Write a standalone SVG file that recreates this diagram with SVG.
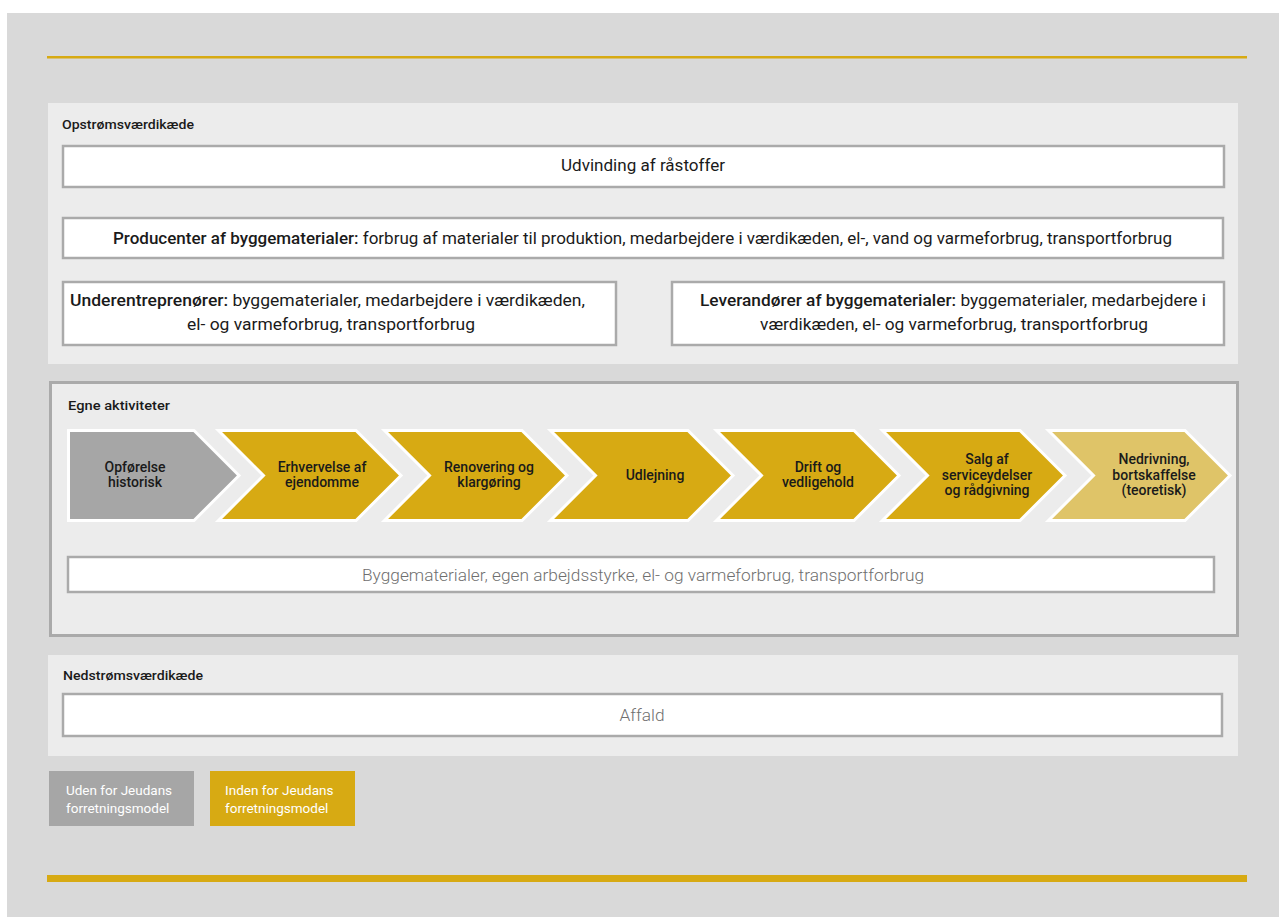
<svg xmlns="http://www.w3.org/2000/svg" width="1279" height="917" viewBox="0 0 1279 917">
  <style>
    .bg { fill: #d9d9d9; }
    .panel { fill: #ececec; }
    .box { fill: #ffffff; stroke: #aaaaaa; stroke-width: 2.5; }
    .rule { fill: #d7aa13; }
    .head { font-family: "Roboto", "Liberation Sans", sans-serif; font-size: 13px; font-weight: 500; fill: #1a1a1a; }
    .body { font-family: "Roboto", "Liberation Sans", sans-serif; font-size: 16px; font-weight: 400; fill: #1a1a1a; text-anchor: middle; }
    .muted { font-family: "Roboto", "Liberation Sans", sans-serif; font-size: 16px; font-weight: 300; fill: #6f6f6f; text-anchor: middle; }
    .chev { stroke: #ffffff; stroke-width: 3; stroke-linejoin: miter; }
    .gold { fill: #d7aa13; }
    .pale { fill: #dfc468; }
    .grey { fill: #a6a6a6; }
    .ctext { font-family: "Roboto", "Liberation Sans", sans-serif; font-size: 14px; font-weight: 500; fill: #1a1a1a; text-anchor: middle; }
    .legend { font-family: "Roboto", "Liberation Sans", sans-serif; font-size: 13.5px; font-weight: 400; fill: #ffffff; }
  </style>

  <!-- page background -->
  <rect x="7" y="13" width="1272" height="904" class="bg"/>
  <rect x="47" y="56" width="1200" height="2.5" class="rule"/>

  <!-- upstream value chain -->
  <g id="upstream">
    <rect x="48" y="103" width="1190" height="261" class="panel"/>
    <text x="62" y="129" class="head" textLength="132" lengthAdjust="spacingAndGlyphs">Opstrømsværdikæde</text>
  </g>
  <g id="node-udvinding">
    <rect x="63" y="146" width="1161" height="41" class="box"/>
    <text x="643" y="171" class="body" textLength="164" lengthAdjust="spacingAndGlyphs">Udvinding af råstoffer</text>
  </g>
  <g id="node-producenter">
    <rect x="63" y="218" width="1160" height="40" class="box"/>
    <text x="642.5" y="244" class="body" textLength="1059" lengthAdjust="spacingAndGlyphs"><tspan font-weight="500">Producenter af byggematerialer:</tspan> forbrug af materialer til produktion, medarbejdere i værdikæden, el-, vand og varmeforbrug, transportforbrug</text>
  </g>
  <g id="node-underentreprenoerer">
    <rect x="63" y="282" width="553" height="63" class="box"/>
    <text x="327.5" y="306" class="body" textLength="515" lengthAdjust="spacingAndGlyphs"><tspan font-weight="500">Underentreprenører:</tspan> byggematerialer, medarbejdere i værdikæden,</text>
    <text x="331" y="330" class="body" textLength="288" lengthAdjust="spacingAndGlyphs">el- og varmeforbrug, transportforbrug</text>
  </g>
  <g id="node-leverandoerer">
    <rect x="672" y="282" width="552" height="63" class="box"/>
    <text x="953" y="306" class="body" textLength="506" lengthAdjust="spacingAndGlyphs"><tspan font-weight="500">Leverandører af byggematerialer:</tspan> byggematerialer, medarbejdere i</text>
    <text x="954" y="330" class="body" textLength="388" lengthAdjust="spacingAndGlyphs">værdikæden, el- og varmeforbrug, transportforbrug</text>
  </g>

  <!-- own activities -->
  <g id="own-activities">
    <rect x="50.5" y="382.5" width="1187" height="253" fill="#ececec" stroke="#aaaaaa" stroke-width="3"/>
    <text x="68" y="410" class="head" textLength="102" lengthAdjust="spacingAndGlyphs">Egne aktiviteter</text>
  </g>

  <g id="step-opfoerelse">
    <polygon class="chev grey" points="68.5,430.5 194,430.5 239,475.5 194,520.5 68.5,520.5"/>
    <text class="ctext" x="135" y="472">Opførelse<tspan x="135" dy="15">historisk</tspan></text>
  </g>
  <g id="step-erhvervelse">
    <polygon class="chev gold" points="218.5,430.5 356,430.5 401,475.5 356,520.5 218.5,520.5 263.5,475.5"/>
    <text class="ctext" x="322" y="472">Erhvervelse af<tspan x="322" dy="15">ejendomme</tspan></text>
  </g>
  <g id="step-renovering">
    <polygon class="chev gold" points="384.5,430.5 522,430.5 567,475.5 522,520.5 384.5,520.5 429.5,475.5"/>
    <text class="ctext" x="489" y="472">Renovering og<tspan x="489" dy="15">klargøring</tspan></text>
  </g>
  <g id="step-udlejning">
    <polygon class="chev gold" points="550.5,430.5 688,430.5 733,475.5 688,520.5 550.5,520.5 595.5,475.5"/>
    <text class="ctext" x="655" y="480">Udlejning</text>
  </g>
  <g id="step-drift">
    <polygon class="chev gold" points="716.5,430.5 854,430.5 899,475.5 854,520.5 716.5,520.5 761.5,475.5"/>
    <text class="ctext" x="818" y="472">Drift og<tspan x="818" dy="15">vedligehold</tspan></text>
  </g>
  <g id="step-salg">
    <polygon class="chev gold" points="882.5,430.5 1020,430.5 1065,475.5 1020,520.5 882.5,520.5 927.5,475.5"/>
    <text class="ctext" x="987" y="464">Salg af<tspan x="987" dy="15.5">serviceydelser</tspan><tspan x="987" dy="15.5">og rådgivning</tspan></text>
  </g>
  <g id="step-nedrivning">
    <polygon class="chev pale" points="1048.5,430.5 1185,430.5 1230,475.5 1185,520.5 1048.5,520.5 1093.5,475.5"/>
    <text class="ctext" x="1154" y="464">Nedrivning,<tspan x="1154" dy="15.5">bortskaffelse</tspan><tspan x="1154" dy="15.5">(teoretisk)</tspan></text>
  </g>

  <g id="node-byggematerialer">
    <rect x="68" y="557" width="1146" height="35" class="box"/>
    <text x="643" y="581" class="muted" textLength="562" lengthAdjust="spacingAndGlyphs">Byggematerialer, egen arbejdsstyrke, el- og varmeforbrug, transportforbrug</text>
  </g>

  <!-- downstream value chain -->
  <g id="downstream">
    <rect x="48" y="655" width="1190" height="101" class="panel"/>
    <text x="63" y="680" class="head" textLength="140" lengthAdjust="spacingAndGlyphs">Nedstrømsværdikæde</text>
  </g>
  <g id="node-affald">
    <rect x="63" y="694" width="1159" height="42" class="box"/>
    <text x="642" y="721" class="muted" textLength="45" lengthAdjust="spacingAndGlyphs">Affald</text>
  </g>

  <!-- legend -->
  <g id="legend-outside">
    <rect x="49" y="771" width="145" height="55" class="grey"/>
    <text x="66" y="795" class="legend">Uden for Jeudans<tspan x="66" dy="18">forretningsmodel</tspan></text>
  </g>
  <g id="legend-inside">
    <rect x="210" y="771" width="145" height="55" class="gold"/>
    <text x="225" y="795" class="legend">Inden for Jeudans<tspan x="225" dy="18">forretningsmodel</tspan></text>
  </g>

  <rect x="47" y="875" width="1200" height="7" class="rule"/>
</svg>
